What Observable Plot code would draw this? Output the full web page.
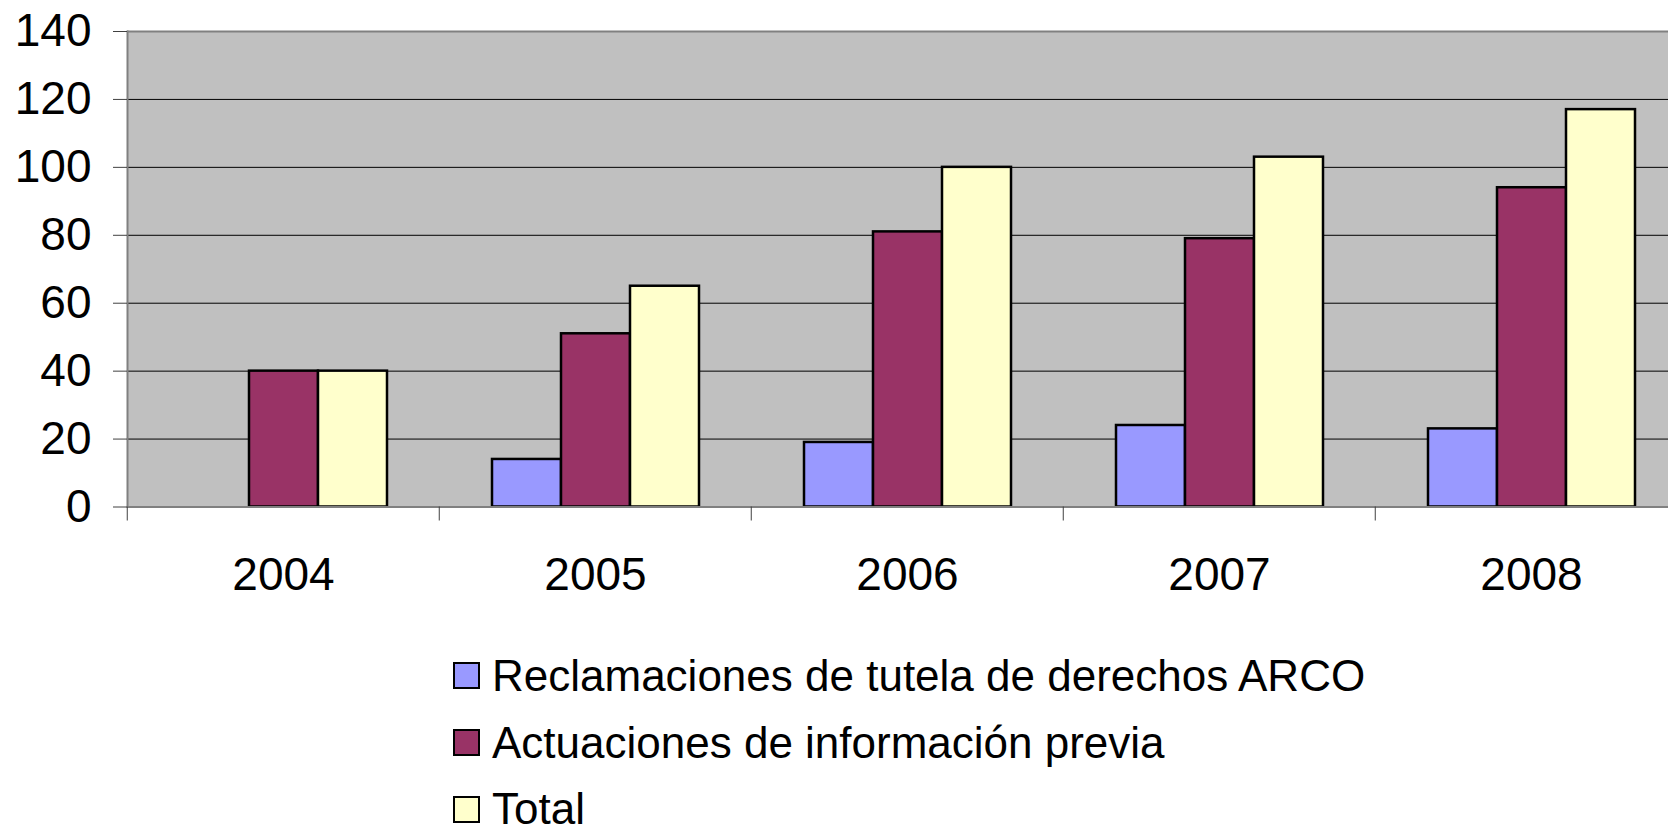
<!DOCTYPE html>
<html><head><meta charset="utf-8">
<script src="https://cdn.jsdelivr.net/npm/d3@7"></script>
<script src="https://cdn.jsdelivr.net/npm/@observablehq/plot@0.6"></script>
<style>
html,body{margin:0;padding:0;background:#fff;overflow:hidden;font-family:"Liberation Sans",Arial,sans-serif;}
#legend{margin-left:453px;padding-top:2.6px}
.row{display:flex;align-items:center;height:66.7px;font-size:44px;line-height:1;color:#000}
.sw{width:23px;height:23px;border:2px solid #000;margin-right:12px;box-sizing:content-box;flex:none}
</style></head><body>
<div id="chart"></div><div id="legend"></div>
<script>
const years = ["2004", "2005", "2006", "2007", "2008"];
const seriesNames = ["Reclamaciones de tutela de derechos ARCO", "Actuaciones de información previa", "Total"];
const reclamaciones = [null, 14, 19, 24, 23];
const actuaciones = [40, 51, 81, 79, 94];
const totales = [40, 65, 100, 103, 117];
const seriesColors = ["#9999FF", "#993366", "#FFFFCC"];
const yTicks = [0, 20, 40, 60, 80, 100, 120, 140];

const seriesValues = [reclamaciones, actuaciones, totales];
const rows = [];
years.forEach((yr, i) => {
  seriesValues.forEach((arr, j) => {
    if (arr[i] != null) rows.push({year: yr, series: seriesNames[j], value: arr[i]});
  });
});

const W = 1668, H = 640, mL = 126, mT = 31, mB = H - 506.5, mR = -20.5;
const step = (W - mR - mL) / years.length;

const chart = Plot.plot({
  width: W, height: H,
  marginLeft: mL, marginRight: mR, marginTop: mT, marginBottom: mB,
  style: {fontFamily: "Liberation Sans, Arial, sans-serif", fontSize: "46px", color: "#000", background: "transparent", overflow: "hidden"},
  fx: {domain: years, padding: 0, label: null},
  x: {domain: seriesNames, paddingInner: 0, paddingOuter: 0.732, axis: null},
  y: {domain: [0, 140], label: null},
  color: {domain: seriesNames, range: seriesColors},
  marks: [
    Plot.frame({fill: "#C0C0C0", stroke: "#C0C0C0", strokeWidth: 1}),
    Plot.gridY(yTicks.filter(t => t > 0 && t < 140), {stroke: "#000", strokeOpacity: 1, strokeWidth: 1}),
    Plot.ruleY([140], {stroke: "#808080", strokeWidth: 2}),
    Plot.barY(rows, {fx: "year", x: "series", y: "value", fill: "series", stroke: "#000", strokeWidth: 2.5}),
    Plot.ruleY([0], {stroke: "#808080", strokeWidth: 2}),
    Plot.frame({anchor: "left", fx: years[0], stroke: "#808080", strokeWidth: 2}),
    Plot.axisY({ticks: yTicks, tickSize: 14, tickPadding: 22, fontSize: 46, stroke: "#404040", label: null}),
    Plot.axisFx({anchor: "bottom", tickSize: 0, tickPadding: 50, fontSize: 46, label: null}),
    Plot.axisFx({anchor: "bottom", tickSize: 14, tickFormat: () => "", dx: -step / 2, stroke: "#404040", label: null})
  ]
});
document.getElementById("chart").append(chart);

const legend = document.getElementById("legend");
seriesNames.forEach((name, j) => {
  const row = document.createElement("div");
  row.className = "row";
  const sw = document.createElement("span");
  sw.className = "sw";
  sw.style.background = seriesColors[j];
  const label = document.createElement("span");
  label.textContent = name;
  row.append(sw, label);
  legend.append(row);
});
</script>
</body></html>
